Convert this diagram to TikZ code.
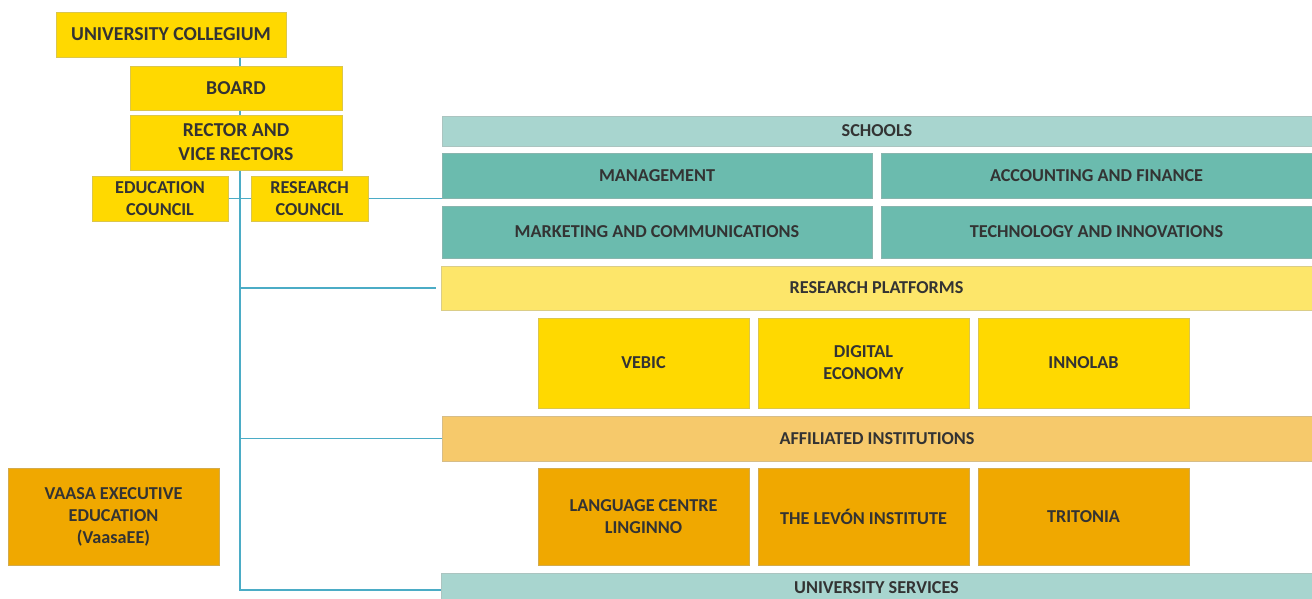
\documentclass[tikz,border=0pt]{standalone}
\usepackage{fontspec}
\setmainfont{Carlito}
\usetikzlibrary{backgrounds}

\definecolor{gold}{HTML}{FFD900}
\definecolor{paleyellow}{HTML}{FDE66A}
\definecolor{paleteal}{HTML}{A8D5CF}
\definecolor{teal}{HTML}{6BBBAE}
\definecolor{paleorange}{HTML}{F6C96B}
\definecolor{orange}{HTML}{F0A800}
\definecolor{wire}{HTML}{4BACC6}
\definecolor{ink}{HTML}{333333}

\begin{document}
\begin{tikzpicture}[x=1pt, y=-1pt,
        unit/.style={draw=#1!80!black!70, fill=#1, line width=0.5pt, inner sep=0pt, outer sep=0pt,
                align=center, text=ink, font=\bfseries\fontsize{18.2}{22}\selectfont},
        top/.style={font=\bfseries\fontsize{19.7}{24}\selectfont},
        link/.style={wire, line width=1.1pt}
    ]
    \useasboundingbox (0,0) rectangle (1312,599);

    % Governing bodies on the left
    \node[unit=gold, top, minimum width=230pt, minimum height=45pt] (coll) at (171,34.5) {UNIVERSITY COLLEGIUM};
    \node[unit=gold, top, minimum width=212pt, minimum height=44pt] (board) at (236,88) {BOARD};
    \node[unit=gold, top, minimum width=212pt, minimum height=55pt] (rector) at (236,142.5) {RECTOR AND\\VICE RECTORS};
    \node[unit=gold, minimum width=136pt, minimum height=45pt] (edu) at (160,198.5) {EDUCATION\\COUNCIL};
    \node[unit=gold, minimum width=117pt, minimum height=45pt] (rc) at (309.5,198.5) {RESEARCH\\COUNCIL};
    \node[unit=orange, minimum width=211pt, minimum height=97pt] (vee) at (113.5,516.5) {VAASA EXECUTIVE\\EDUCATION\\(VaasaEE)};

    % Schools
    \node[unit=paleteal, minimum width=870pt, minimum height=30pt] (schools) at (877,131) {SCHOOLS};
    \node[unit=teal, minimum width=430pt, minimum height=45pt] (mgmt) at (657,175.5) {MANAGEMENT};
    \node[unit=teal, minimum width=431pt, minimum height=45pt] (acc) at (1096.5,175.5) {ACCOUNTING AND FINANCE};
    \node[unit=teal, minimum width=430pt, minimum height=52pt] (mkt) at (657,232) {MARKETING AND COMMUNICATIONS};
    \node[unit=teal, minimum width=431pt, minimum height=52pt] (tech) at (1096.5,232) {TECHNOLOGY AND INNOVATIONS};

    % Research platforms
    \node[unit=paleyellow, minimum width=871pt, minimum height=44pt] (plat) at (876.5,288) {RESEARCH PLATFORMS};
    \foreach \name/\x/\txt in {vebic/643.5/VEBIC, digital/863.5/{DIGITAL\\ECONOMY}, innolab/1083.5/INNOLAB} {
            \node[unit=gold, minimum width=211pt, minimum height=90pt] (\name) at (\x,363) {\txt};
        }

    % Affiliated institutions
    \node[unit=paleorange, minimum width=870pt, minimum height=45pt] (aff) at (877,438.5) {AFFILIATED INSTITUTIONS};
    \foreach \name/\x/\txt in {lang/643.5/{LANGUAGE CENTRE\\LINGINNO}, levon/863.5/THE LEVÓN INSTITUTE, tritonia/1083.5/TRITONIA} {
            \node[unit=orange, minimum width=211pt, minimum height=97pt] (\name) at (\x,516.5) {\txt};
        }

    % University services
    \node[unit=paleteal, minimum width=871pt, minimum height=30pt] (serv) at (876.5,588) {UNIVERSITY SERVICES};

    % Connectors behind the boxes
    \coordinate (spine) at (240,590);
    \begin{scope}[on background layer]
        \draw[link] (coll.south -| spine) -- (spine) -- (serv.west |- spine);
        \draw[link] (edu.east) -- (rc.west);
        \draw[link] (rc.east) -- (schools.west |- rc.east);
        \draw[link] (spine |- plat.west) -- ([xshift=-5pt]plat.west);
        \draw[link] (spine |- aff.west) -- (aff.west);
    \end{scope}
\end{tikzpicture}
\end{document}
